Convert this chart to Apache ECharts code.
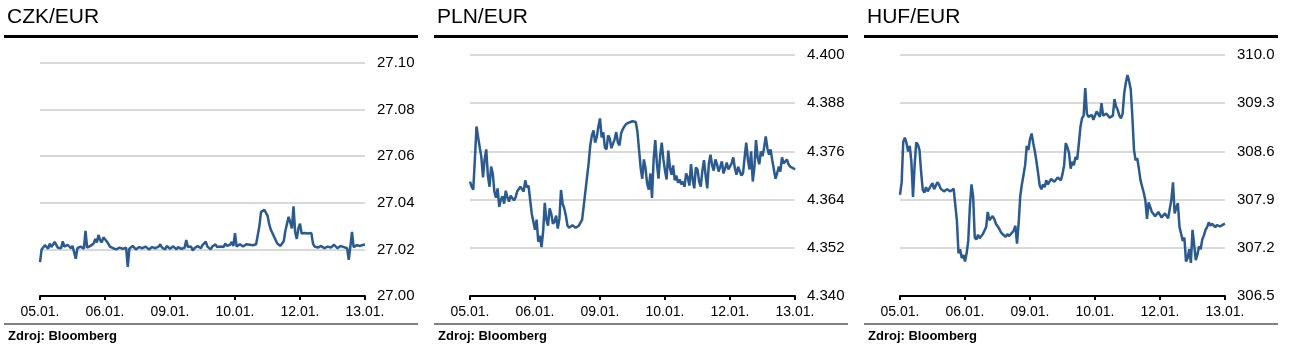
<!DOCTYPE html>
<html><head><meta charset="utf-8">
<script src="https://cdn.jsdelivr.net/npm/echarts@6/dist/echarts.min.js"></script>
<style>html,body{margin:0;padding:0;background:#fff}#c{width:1289px;height:354px}</style>
</head><body><div id="c"></div>
<script>
// ---- data ----
const tickLabels = ['05.01.', '06.01.', '09.01.', '10.01.', '12.01.', '13.01.'];
const pointsPerDay = 40;
const titles = ['CZK/EUR', 'PLN/EUR', 'HUF/EUR'];
const source = 'Zdroj: Bloomberg';

const czkTicks = [27.00, 27.02, 27.04, 27.06, 27.08, 27.10];
const plnTicks = [4.340, 4.352, 4.364, 4.376, 4.388, 4.400];
const hufTicks = [306.5, 307.2, 307.9, 308.6, 309.3, 310.0];

const czk = [
  27.0145, 27.0200, 27.0205, 27.0218, 27.0212, 27.0203, 27.0225, 27.0210, 27.0205, 27.0232,
  27.0228, 27.0207, 27.0215, 27.0205, 27.0235, 27.0212, 27.0208, 27.0220, 27.0222, 27.0205,
  27.0215, 27.0208, 27.0160, 27.0205, 27.0205, 27.0212, 27.0208, 27.0203, 27.0280, 27.0208,
  27.0205, 27.0215, 27.0212, 27.0225, 27.0245, 27.0230, 27.0262, 27.0240, 27.0230, 27.0252,
  27.0255, 27.0235, 27.0225, 27.0212, 27.0215, 27.0205, 27.0205, 27.0200, 27.0198, 27.0208,
  27.0212, 27.0202, 27.0205, 27.0208, 27.0125, 27.0203, 27.0205, 27.0215, 27.0210, 27.0200,
  27.0198, 27.0210, 27.0215, 27.0205, 27.0203, 27.0212, 27.0212, 27.0200, 27.0205, 27.0210,
  27.0218, 27.0205, 27.0202, 27.0212, 27.0222, 27.0208, 27.0205, 27.0200, 27.0215, 27.0222,
  27.0203, 27.0208, 27.0213, 27.0205, 27.0200, 27.0210, 27.0208, 27.0202, 27.0202, 27.0207,
  27.0240, 27.0210, 27.0205, 27.0212, 27.0195, 27.0205, 27.0205, 27.0215, 27.0212, 27.0205,
  27.0218, 27.0210, 27.0233, 27.0212, 27.0205, 27.0200, 27.0212, 27.0208, 27.0222, 27.0210,
  27.0205, 27.0212, 27.0218, 27.0210, 27.0225, 27.0215, 27.0208, 27.0220, 27.0232, 27.0215,
  27.0270, 27.0212, 27.0205, 27.0222, 27.0220, 27.0212, 27.0218, 27.0222, 27.0222, 27.0220,
  27.0215, 27.0218, 27.0220, 27.0222, 27.0225, 27.0300, 27.0360, 27.0352, 27.0370, 27.0358,
  27.0345, 27.0310, 27.0285, 27.0270, 27.0255, 27.0240, 27.0225, 27.0232, 27.0215, 27.0225,
  27.0235, 27.0280, 27.0310, 27.0340, 27.0335, 27.0290, 27.0385, 27.0275, 27.0245, 27.0290,
  27.0310, 27.0268, 27.0265, 27.0270, 27.0270, 27.0268, 27.0265, 27.0270, 27.0225, 27.0212,
  27.0215, 27.0208, 27.0205, 27.0215, 27.0212, 27.0205, 27.0202, 27.0212, 27.0218, 27.0208,
  27.0208, 27.0220, 27.0215, 27.0205, 27.0205, 27.0215, 27.0218, 27.0210, 27.0210, 27.0205,
  27.0155, 27.0212, 27.0275, 27.0210, 27.0212, 27.0218, 27.0220, 27.0215, 27.0208, 27.0220,
  27.0220
];
const pln = [
  4.3685, 4.3672, 4.3665, 4.3740, 4.3822, 4.3795, 4.3770, 4.3745, 4.3695, 4.3740,
  4.3765, 4.3700, 4.3672, 4.3722, 4.3705, 4.3660, 4.3645, 4.3668, 4.3622, 4.3640,
  4.3648, 4.3630, 4.3662, 4.3645, 4.3635, 4.3650, 4.3652, 4.3638, 4.3645, 4.3660,
  4.3658, 4.3672, 4.3668, 4.3660, 4.3688, 4.3670, 4.3675, 4.3640, 4.3605, 4.3585,
  4.3565, 4.3590, 4.3535, 4.3550, 4.3522, 4.3560, 4.3632, 4.3590, 4.3575, 4.3618,
  4.3605, 4.3580, 4.3585, 4.3600, 4.3568, 4.3592, 4.3664, 4.3630, 4.3618, 4.3600,
  4.3575, 4.3570, 4.3572, 4.3576, 4.3575, 4.3570, 4.3573, 4.3575, 4.3576, 4.3590,
  4.3625, 4.3660, 4.3695, 4.3730, 4.3775, 4.3800, 4.3812, 4.3782, 4.3795, 4.3822,
  4.3842, 4.3795, 4.3808, 4.3770, 4.3765, 4.3800, 4.3792, 4.3768, 4.3772, 4.3790,
  4.3808, 4.3782, 4.3775, 4.3805, 4.3815, 4.3822, 4.3828, 4.3830, 4.3832, 4.3836,
  4.3835, 4.3834, 4.3833, 4.3810, 4.3765, 4.3720, 4.3692, 4.3740, 4.3718, 4.3680,
  4.3665, 4.3705, 4.3644, 4.3740, 4.3788, 4.3730, 4.3692, 4.3750, 4.3782, 4.3740,
  4.3712, 4.3690, 4.3762, 4.3720, 4.3702, 4.3725, 4.3688, 4.3700, 4.3682, 4.3690,
  4.3678, 4.3685, 4.3672, 4.3705, 4.3695, 4.3675, 4.3728, 4.3690, 4.3668, 4.3720,
  4.3715, 4.3685, 4.3672, 4.3712, 4.3738, 4.3700, 4.3668, 4.3730, 4.3752, 4.3725,
  4.3712, 4.3740, 4.3728, 4.3710, 4.3722, 4.3735, 4.3705, 4.3718, 4.3732, 4.3715,
  4.3712, 4.3730, 4.3745, 4.3718, 4.3702, 4.3722, 4.3718, 4.3700, 4.3705, 4.3745,
  4.3782, 4.3740, 4.3715, 4.3760, 4.3685, 4.3720, 4.3788, 4.3745, 4.3728, 4.3760,
  4.3748, 4.3770, 4.3797, 4.3768, 4.3752, 4.3765, 4.3738, 4.3715, 4.3692, 4.3705,
  4.3722, 4.3710, 4.3745, 4.3730, 4.3735, 4.3740, 4.3728, 4.3722, 4.3720, 4.3718,
  4.3715
];
const huf = [
  307.97, 308.15, 308.74, 308.80, 308.72, 308.60, 308.68, 308.45, 307.94, 308.40,
  308.73, 308.70, 308.62, 308.30, 308.04, 308.00, 308.08, 308.02, 308.03, 308.10,
  308.14, 308.05, 308.04, 308.15, 308.12, 308.06, 308.05, 308.02, 308.01, 308.05,
  308.03, 308.02, 308.04, 308.06, 308.07, 307.60, 307.12, 307.18, 307.05, 307.10,
  307.00, 307.12, 307.30, 307.80, 308.12, 307.95, 307.35, 307.32, 307.39, 307.34,
  307.36, 307.40, 307.42, 307.50, 307.72, 307.60, 307.58, 307.66, 307.62, 307.55,
  307.56, 307.48, 307.43, 307.40, 307.39, 307.36, 307.40, 307.37, 307.38, 307.42,
  307.45, 307.52, 307.26, 307.55, 307.95, 308.12, 308.12, 308.40, 308.68, 308.62,
  308.78, 308.86, 308.72, 308.60, 308.45, 308.28, 308.10, 308.05, 308.12, 308.08,
  308.18, 308.12, 308.14, 308.20, 308.20, 308.16, 308.17, 308.22, 308.20, 308.18,
  308.27, 308.40, 308.72, 308.66, 308.58, 308.35, 308.45, 308.40, 308.52, 308.48,
  308.70, 308.95, 309.08, 309.12, 309.52, 309.15, 309.10, 309.08, 309.13, 309.06,
  309.08, 309.18, 309.16, 309.10, 309.30, 309.12, 309.10, 309.15, 309.13, 309.09,
  309.07, 309.12, 309.36, 309.25, 309.20, 309.12, 309.08, 309.15, 309.45, 309.60,
  309.71, 309.62, 309.50, 309.10, 308.62, 308.47, 308.50, 308.35, 308.18, 308.09,
  308.00, 307.89, 307.62, 307.86, 307.85, 307.72, 307.70, 307.66, 307.67, 307.72,
  307.68, 307.64, 307.63, 307.70, 307.68, 307.63, 307.64, 307.90, 308.15, 307.70,
  307.78, 307.85, 307.50, 307.40, 307.30, 307.35, 307.00, 307.05, 307.18, 306.98,
  307.46, 307.25, 307.02, 307.10, 307.22, 307.18, 307.32, 307.38, 307.46, 307.50,
  307.57, 307.52, 307.55, 307.56, 307.50, 307.53, 307.54, 307.51, 307.52, 307.54,
  307.55
];

// ---- chart ----
const FONT = "'Liberation Sans', Arial, sans-serif";
const LINE_COLOR = '#2a5a8f';
const n = czk.length;
const categories = [];
for (let i = 0; i < n; i++) {
  const k = Math.floor(i / pointsPerDay), j = i % pointsPerDay;
  categories.push(j === 0 ? tickLabels[k] : tickLabels[k] + '#' + j);
}
const isTick = (idx) => idx % pointsPerDay === 0;

const panels = [
  { data: czk, ticks: czkTicks, dec: 2, ox: 0, top: 63 },
  { data: pln, ticks: plnTicks, dec: 3, ox: 430, top: 55 },
  { data: huf, ticks: hufTicks, dec: 1, ox: 860, top: 55 }
];
const plotLeft = 40, plotWidth = 325, plotBottom = 296;

const grid = [], xAxis = [], yAxis = [], series = [], graphic = [];
panels.forEach((p, gi) => {
  grid.push({ left: p.ox + plotLeft, top: p.top, width: plotWidth, height: plotBottom - p.top,
    containLabel: false, outerBoundsMode: 'none' });
  xAxis.push({
    type: 'category', gridIndex: gi, data: categories, boundaryGap: false,
    axisLine: { show: true, lineStyle: { color: '#000', width: 2 } },
    axisTick: { show: true, interval: (idx) => isTick(idx), length: 4, lineStyle: { color: '#000', width: 2 } },
    axisLabel: { interval: (idx) => isTick(idx), formatter: (v, idx) => tickLabels[Math.round(idx / pointsPerDay)],
      color: '#000', fontSize: 14, fontFamily: FONT, margin: 9, hideOverlap: false },
    splitLine: { show: false }
  });
  const t = p.ticks;
  yAxis.push({
    type: 'value', gridIndex: gi, position: 'right', min: t[0], max: t[t.length - 1],
    interval: +(t[1] - t[0]).toFixed(6),
    axisLine: { show: false }, axisTick: { show: false },
    axisLabel: { color: '#000', fontSize: 15, fontFamily: FONT, margin: 12, formatter: (v) => v.toFixed(p.dec) },
    splitLine: { show: true, lineStyle: { color: '#d9d9d9', width: 2 } }
  });
  series.push({
    type: 'line', xAxisIndex: gi, yAxisIndex: gi, data: p.data, showSymbol: false, symbol: 'none',
    lineStyle: { color: LINE_COLOR, width: 2.5 }, animation: false, silent: true
  });
  graphic.push(
    { type: 'text', left: p.ox + 7, top: 7, style: { text: titles[gi], font: '21px ' + FONT, fill: '#000' } },
    { type: 'rect', shape: { x: p.ox + 4, y: 35, width: 414, height: 3 }, style: { fill: '#000' } },
    { type: 'rect', shape: { x: p.ox + 4, y: 323, width: 414, height: 2 }, style: { fill: '#808080' } },
    { type: 'text', left: p.ox + 8, top: 330, style: { text: source, font: 'bold 13px ' + FONT, fill: '#000' } }
  );
});

const chart = echarts.init(document.getElementById('c'), null, { renderer: 'canvas' });
chart.setOption({ animation: false, backgroundColor: '#fff', grid, xAxis, yAxis, series, graphic });
</script>
</body></html>
